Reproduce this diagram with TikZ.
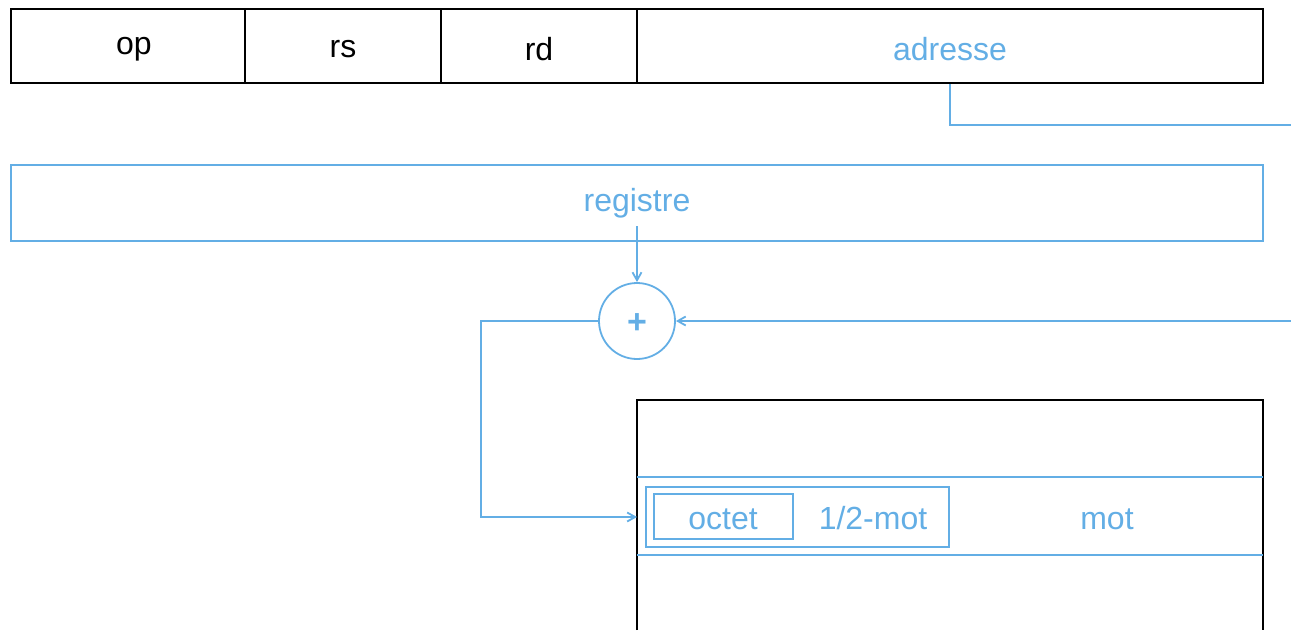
\documentclass[tikz,border=0pt]{standalone}
\usepackage{fontspec}
\setmainfont{Liberation Sans}
\usetikzlibrary{arrows.meta}
\definecolor{bl}{RGB}{99,174,229}
\begin{document}
\begin{tikzpicture}[x=1pt,y=-1pt,
  big/.style={font=\fontsize{32}{36}\selectfont},
  fld/.style={draw=black,line width=1.8pt,minimum height=74pt,inner sep=0pt},
  txt/.style={big,inner sep=0pt,anchor=base},
  btxt/.style={txt,text=bl},
  conn/.style={draw=bl,line width=1.8pt},
  arr/.style={conn,-{Straight Barb[length=8pt,width=9pt]}}]
\useasboundingbox (0,0) rectangle (1291,630);
% instruction fields
\node[fld,minimum width=234pt] (op) at (128,46) {};
\node[fld,minimum width=196pt] (rs) at (343,46) {};
\node[fld,minimum width=196pt] (rd) at (539,46) {};
\node[fld,minimum width=626pt] (adr) at (950,46) {};
\node[txt] (opt) at (134,54) {op};
\node[txt] (rst) at (343,57) {rs};
\node[txt] (rdt) at (539,60) {rd};
\node[btxt] (adrt) at (950,60) {adresse};
% register
\node[draw=bl,line width=1.8pt,minimum width=1252pt,minimum height=76pt,inner sep=0pt] (reg) at (637,203) {};
\node[btxt] (regt) at (637,211) {registre};
% adder
\node[draw=bl,line width=1.8pt,circle,minimum size=76pt,inner sep=0pt] (add) at (637,321) {};
\node[btxt,font=\fontsize{34}{36}\selectfont\bfseries] (plus) at (637,333) {+};
\coordinate (e1) at (1291,125);
\coordinate (e2) at (1291,321);
\coordinate (rsrc) at (637,226);
\draw[conn] (adr.south -| adrt) |- (e1);
\draw[arr] (e2) -- (add.east);
\draw[arr] (rsrc) -- (add.north);
% memory
\draw[line width=1.8pt] (637,630) -- (637,400) -- (1263,400) -- (1263,630);
\coordinate (m1) at (637,477);
\coordinate (m2) at (637,555);
\draw[conn] (m1) -- (1263,477);
\draw[conn] (m2) -- (1263,555);
\node[draw=bl,line width=1.8pt,minimum width=303pt,minimum height=60pt,inner sep=0pt] (half) at (797.5,517) {};
\node[draw=bl,line width=1.8pt,minimum width=139pt,minimum height=45pt,inner sep=0pt] (oct) at (723.5,516.5) {};
\node[btxt] (octt) at (723,529) {octet};
\node[btxt] (halft) at (873,529) {1/2-mot};
\node[btxt] (mot) at (1107,529) {mot};
\coordinate (mentry) at (637,517);
\draw[arr] (add.west) -| (481,517) -- (mentry);
\end{tikzpicture}
\end{document}
